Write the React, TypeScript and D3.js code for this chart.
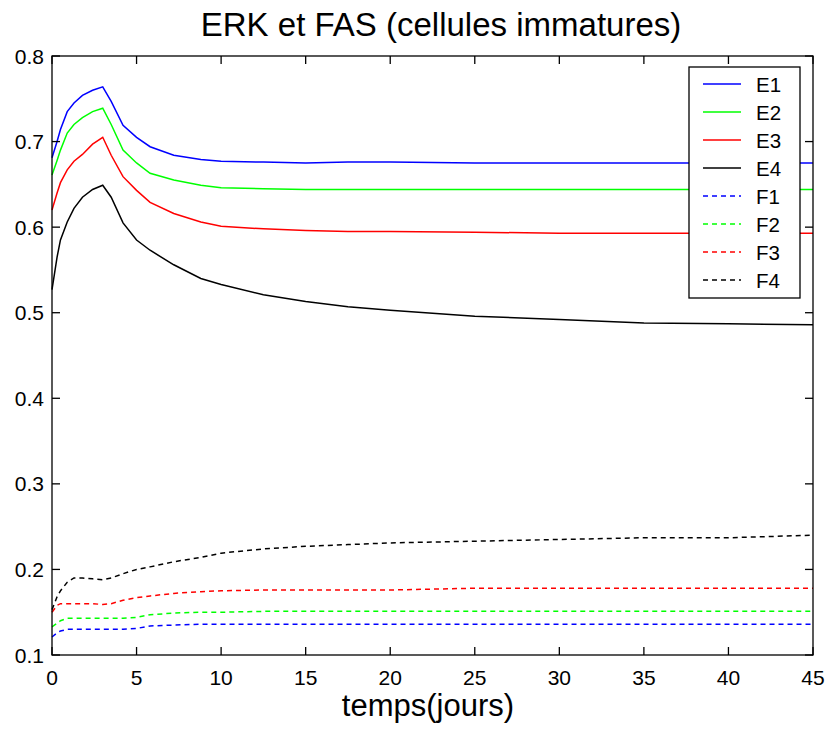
import React from 'react';
import * as d3 from 'd3';

// temps (jours)
const times = [0, 0.3, 0.5, 0.9, 1.3, 1.8, 2.4, 3, 3.5, 4.2, 5, 5.8, 7.2, 8.8, 10, 12.5, 15, 17.5, 20, 25, 30, 35, 40, 45];

const E1 = [0.681, 0.7, 0.714, 0.735, 0.745, 0.754, 0.76, 0.764, 0.747, 0.719, 0.705, 0.694, 0.684, 0.679, 0.677, 0.676, 0.675, 0.676, 0.676, 0.675, 0.675, 0.675, 0.675, 0.675];
const E2 = [0.661, 0.678, 0.69, 0.71, 0.72, 0.728, 0.735, 0.739, 0.72, 0.69, 0.675, 0.663, 0.655, 0.649, 0.646, 0.645, 0.644, 0.644, 0.644, 0.644, 0.644, 0.644, 0.644, 0.644];
const E3 = [0.62, 0.64, 0.652, 0.667, 0.677, 0.685, 0.697, 0.705, 0.684, 0.659, 0.643, 0.629, 0.616, 0.606, 0.601, 0.598, 0.596, 0.595, 0.595, 0.594, 0.593, 0.593, 0.593, 0.593];
const E4 = [0.527, 0.565, 0.585, 0.606, 0.622, 0.635, 0.644, 0.649, 0.635, 0.605, 0.585, 0.573, 0.556, 0.54, 0.533, 0.521, 0.513, 0.507, 0.503, 0.496, 0.492, 0.488, 0.487, 0.486];
const F1 = [0.121, 0.126, 0.128, 0.13, 0.13, 0.13, 0.13, 0.13, 0.13, 0.13, 0.131, 0.134, 0.135, 0.136, 0.136, 0.136, 0.136, 0.136, 0.136, 0.136, 0.136, 0.136, 0.136, 0.136];
const F2 = [0.133, 0.137, 0.14, 0.143, 0.143, 0.143, 0.143, 0.143, 0.143, 0.143, 0.144, 0.147, 0.149, 0.15, 0.15, 0.151, 0.151, 0.151, 0.151, 0.151, 0.151, 0.151, 0.151, 0.151];
const F3 = [0.15, 0.158, 0.16, 0.16, 0.16, 0.16, 0.16, 0.159, 0.16, 0.164, 0.167, 0.169, 0.172, 0.174, 0.175, 0.176, 0.176, 0.176, 0.176, 0.178, 0.178, 0.178, 0.178, 0.178];
const F4 = [0.153, 0.168, 0.175, 0.185, 0.19, 0.19, 0.189, 0.188, 0.19, 0.195, 0.2, 0.203, 0.209, 0.214, 0.219, 0.224, 0.227, 0.229, 0.231, 0.233, 0.235, 0.237, 0.237, 0.24];

const seriesNames = ['E1', 'E2', 'E3', 'E4', 'F1', 'F2', 'F3', 'F4'];
const seriesValues = [E1, E2, E3, E4, F1, F2, F3, F4];
const seriesColors = ['#0000ff', '#00ff00', '#ff0000', '#000000', '#0000ff', '#00ff00', '#ff0000', '#000000'];
const xTicks = [0, 5, 10, 15, 20, 25, 30, 35, 40, 45];
const yTicks = [0.1, 0.2, 0.3, 0.4, 0.5, 0.6, 0.7, 0.8];

const W = 825;
const H = 730;
const left = 52;
const right = 813;
const top = 56;
const bottom = 655;
const font = 'Arial, "Liberation Sans", sans-serif';

export default function App() {
  const x = d3.scaleLinear().domain([0, 45]).range([left, right]);
  const y = d3.scaleLinear().domain([0.1, 0.8]).range([bottom, top]);
  const line = d3
    .line<number>()
    .x((d, i) => x(times[i]))
    .y((d) => y(d));

  const tickLen = 8;

  return (
    <svg width={W} height={H} style={{ position: 'absolute', left: 0, top: 0, background: '#fff' }}>
      <text x={441} y={36} textAnchor="middle" fontFamily={font} fontSize={33} fill="#000">
        ERK et FAS (cellules immatures)
      </text>

      {seriesValues.map((vals, i) => (
        <path
          key={seriesNames[i]}
          d={line(vals) || ''}
          fill="none"
          stroke={seriesColors[i]}
          strokeWidth={1.5}
          strokeDasharray={i >= 4 ? '5,4' : undefined}
        />
      ))}

      <rect x={left} y={top} width={right - left} height={bottom - top} fill="none" stroke="#000" strokeWidth={1.3} />

      {xTicks.map((t) => (
        <g key={'x' + t}>
          <line x1={x(t)} x2={x(t)} y1={bottom} y2={bottom - tickLen} stroke="#000" strokeWidth={1.3} />
          <line x1={x(t)} x2={x(t)} y1={top} y2={top + tickLen} stroke="#000" strokeWidth={1.3} />
          <text x={x(t)} y={685} textAnchor="middle" fontFamily={font} fontSize={21} fill="#000">
            {t}
          </text>
        </g>
      ))}

      {yTicks.map((t) => (
        <g key={'y' + t}>
          <line x1={left} x2={left + tickLen} y1={y(t)} y2={y(t)} stroke="#000" strokeWidth={1.3} />
          <line x1={right} x2={right - tickLen} y1={y(t)} y2={y(t)} stroke="#000" strokeWidth={1.3} />
          <text x={44} y={y(t) + 7.5} textAnchor="end" fontFamily={font} fontSize={21} fill="#000">
            {t.toFixed(1)}
          </text>
        </g>
      ))}

      <text x={428} y={716} textAnchor="middle" fontFamily={font} fontSize={31} fill="#000">
        temps(jours)
      </text>

      <rect x={689} y={67} width={111} height={231} fill="#fff" stroke="#000" strokeWidth={1.3} />
      {seriesNames.map((name, i) => (
        <g key={'leg' + name}>
          <line
            x1={703}
            x2={741}
            y1={84 + 28 * i}
            y2={84 + 28 * i}
            stroke={seriesColors[i]}
            strokeWidth={1.5}
            strokeDasharray={i >= 4 ? '5,4' : undefined}
          />
          <text x={756} y={84 + 28 * i + 7.5} fontFamily={font} fontSize={20.5} fill="#000">
            {name}
          </text>
        </g>
      ))}
    </svg>
  );
}
